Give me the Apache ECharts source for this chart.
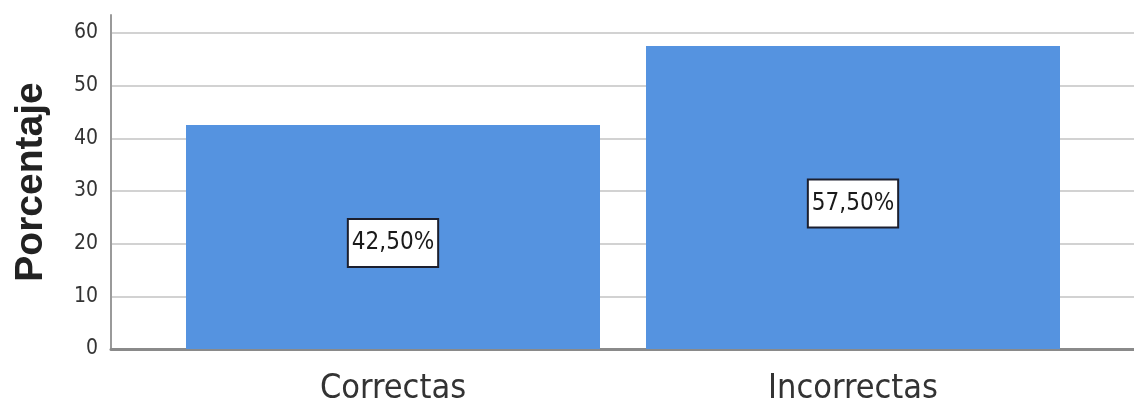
<!DOCTYPE html>
<html>
<head>
<meta charset="utf-8">
<script src="https://cdn.jsdelivr.net/npm/echarts@6/dist/echarts.min.js"></script>
<style>
html,body{margin:0;padding:0;background:#fff;}
#main{width:1134px;height:408px;}
</style>
</head>
<body>
<div id="main"></div>
<script>
// datos del grafico
const categorias = ['Correctas', 'Incorrectas'];
const porcentajes = [42.5, 57.5];
const ejeMax = 63.4;
const ejePaso = 10;

const fuenteNarrow = "'Liberation Sans Narrow', 'Arial Narrow', 'DejaVu Sans Condensed', sans-serif";

// convierte 42.5 -> "42,50%"
function fmtPct(v) {
    return v.toFixed(2).replace('.', ',') + '%';
}

let chart = echarts.init(document.getElementById('main'));

let option = {
    animation: false,
    grid: [
        // rejilla de fondo con ejes
        {left: 111, right: 0, top: 15, bottom: 59},
        // rejilla para las barras
        {left: 163, right: 51, top: 15, bottom: 59}
    ],
    xAxis: [
        {
            gridIndex: 0,
            type: 'category',
            data: ['', ''],
            axisLine: {show: true, lineStyle: {color: '#8a8a8a', width: 3}},
            axisTick: {show: false},
            axisLabel: {show: false},
            splitLine: {show: false}
        },
        {
            gridIndex: 1,
            type: 'category',
            data: categorias,
            axisLine: {show: false},
            axisTick: {show: false},
            axisLabel: {
                show: true,
                margin: 23,
                color: '#333',
                fontSize: 34,
                fontFamily: fuenteNarrow
            }
        }
    ],
    yAxis: [
        {
            gridIndex: 0,
            type: 'value',
            min: 0,
            max: ejeMax,
            interval: ejePaso,
            name: 'Porcentaje',
            nameLocation: 'middle',
            nameGap: 60,
            nameTextStyle: {
                fontSize: 39,
                fontWeight: 'bold',
                color: '#222',
                fontFamily: "'Liberation Sans', Arial, sans-serif"
            },
            axisLine: {show: true, lineStyle: {color: '#9a9a9a', width: 2}},
            axisTick: {show: false},
            axisLabel: {
                margin: 13,
                color: '#333',
                fontSize: 21,
                fontFamily: fuenteNarrow,
                showMaxLabel: false,
                formatter: function (v) {
                    return v % ejePaso === 0 ? String(v) : '';
                }
            },
            splitLine: {
                show: true,
                showMaxLine: false,
                lineStyle: {color: '#d2d2d2', width: 2}
            }
        },
        {
            gridIndex: 1,
            type: 'value',
            min: 0,
            max: ejeMax,
            interval: ejePaso,
            show: false,
            splitLine: {show: false}
        }
    ],
    series: [
        {
            type: 'bar',
            xAxisIndex: 1,
            yAxisIndex: 1,
            data: porcentajes,
            barWidth: 414,
            itemStyle: {color: '#5593e0'},
            label: {
                show: true,
                position: 'inside',
                offset: [0, 6],
                formatter: function (p) {
                    return fmtPct(p.value);
                },
                color: '#1a1a1a',
                fontSize: 24,
                fontFamily: fuenteNarrow,
                backgroundColor: '#fff',
                borderColor: '#1c1f2e',
                borderWidth: 2,
                padding: [12, 3, 10, 3]
            }
        }
    ]
};

chart.setOption(option);
</script>
</body>
</html>
